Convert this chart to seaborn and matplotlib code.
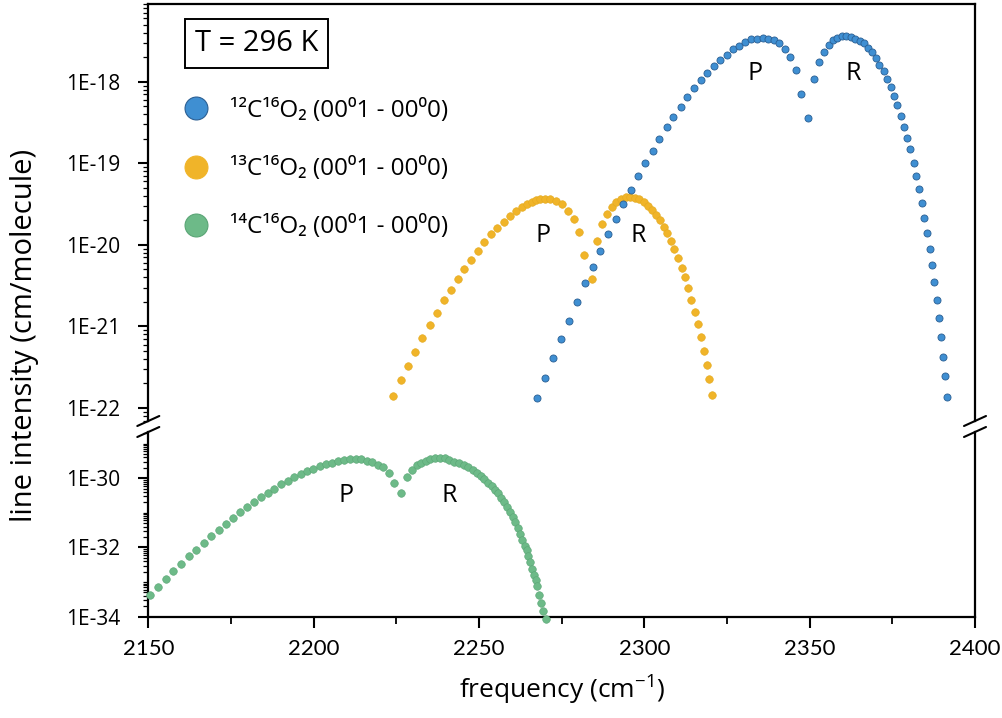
import numpy as np
import pandas as pd
import matplotlib
matplotlib.use("Agg")
import matplotlib.pyplot as plt
import seaborn as sns
from matplotlib.ticker import FixedLocator, FuncFormatter, MultipleLocator, NullFormatter, NullLocator
from matplotlib.lines import Line2D

# ---------------- data ----------------
# 12C16O2 (0001 - 00000): frequency (cm-1) and log10 line intensity (cm/molecule)
c12_freq = [2267.4, 2269.9, 2272.3, 2274.8, 2277.3, 2279.7, 2282.1, 2284.4, 2286.7, 2289.0,
            2291.3, 2293.6, 2296.0, 2298.1, 2300.3, 2302.5, 2304.5, 2306.8, 2308.8, 2311.0,
            2312.8, 2315.0, 2317.0, 2319.0, 2321.0, 2322.9, 2324.9, 2326.7, 2328.5, 2330.3,
            2332.2, 2334.0, 2335.8, 2337.5, 2339.2, 2340.8, 2342.5, 2344.1, 2345.9, 2347.5,
            2349.6,
            2351.2, 2352.7, 2354.2, 2355.7, 2357.0, 2358.3, 2359.8, 2361.1, 2362.5, 2363.8,
            2365.2, 2366.4, 2367.7, 2368.9, 2370.0, 2371.0, 2372.4, 2373.5, 2374.5, 2375.6,
            2376.5, 2377.5, 2378.5, 2379.5, 2380.4, 2381.5, 2382.2, 2383.1, 2384.1, 2384.7,
            2385.6, 2386.3, 2387.1, 2387.7, 2388.4, 2389.0, 2389.7, 2390.3, 2390.9, 2391.4]
c12_log10 = [-21.88, -21.63, -21.39, -21.15, -20.93, -20.70, -20.47, -20.27, -20.07, -19.87,
             -19.68, -19.50, -19.33, -19.16, -19.00, -18.85, -18.70, -18.56, -18.43, -18.31,
             -18.19, -18.08, -17.98, -17.89, -17.81, -17.73, -17.67, -17.60, -17.56, -17.51,
             -17.48, -17.47, -17.46, -17.47, -17.49, -17.53, -17.60, -17.70, -17.86, -18.15,
             -18.45,
             -17.97, -17.76, -17.63, -17.55, -17.49, -17.46, -17.44, -17.44, -17.45, -17.47,
             -17.50, -17.53, -17.59, -17.64, -17.71, -17.79, -17.87, -17.97, -18.07, -18.18,
             -18.29, -18.42, -18.55, -18.69, -18.83, -18.99, -19.15, -19.31, -19.49, -19.67,
             -19.86, -20.05, -20.25, -20.46, -20.68, -20.90, -21.13, -21.37, -21.61, -21.87]

# 13C16O2 (0001 - 00000)
c13_freq = [2224.1, 2226.3, 2228.5, 2230.6, 2232.9, 2235.1, 2237.3, 2239.3, 2241.4, 2243.6,
            2245.6, 2247.6, 2249.6, 2251.6, 2253.6, 2255.5, 2257.6, 2259.4, 2261.3, 2262.9,
            2264.4, 2265.9, 2267.2, 2268.6, 2270.0, 2271.5, 2273.2, 2275.0, 2276.9, 2278.6,
            2280.2, 2281.8, 2284.2,
            2285.7, 2287.2, 2288.7, 2290.1, 2291.5, 2292.9, 2294.4, 2295.8, 2297.2, 2298.5,
            2299.8, 2301.0, 2302.2, 2303.4, 2304.6, 2305.9, 2306.9, 2308.1, 2309.1, 2310.2,
            2311.3, 2312.2, 2313.2, 2314.2, 2315.2, 2316.1, 2317.0, 2318.0, 2318.9, 2319.6,
            2320.5]
c13_log10 = [-21.85, -21.66, -21.48, -21.31, -21.14, -20.98, -20.83, -20.68, -20.55, -20.42,
             -20.29, -20.18, -20.07, -19.97, -19.87, -19.79, -19.72, -19.65, -19.59, -19.53,
             -19.50, -19.47, -19.45, -19.44, -19.44, -19.44, -19.46, -19.50, -19.58, -19.68,
             -19.84, -20.13, -20.42,
             -19.95, -19.75, -19.62, -19.53, -19.47, -19.44, -19.41, -19.41, -19.42, -19.44,
             -19.47, -19.52, -19.57, -19.63, -19.70, -19.78, -19.86, -19.95, -20.05, -20.16,
             -20.28, -20.40, -20.53, -20.67, -20.82, -20.97, -21.13, -21.30, -21.47, -21.65,
             -21.84]

# 14C16O2 (0001 - 00000)
c14_freq = [2150.5, 2152.8, 2155.3, 2157.6, 2159.9, 2162.3, 2164.5, 2166.8, 2169.1, 2171.3,
            2173.5, 2175.7, 2177.7, 2179.9, 2182.1, 2184.2, 2186.2, 2188.1, 2190.1, 2192.2,
            2194.1, 2196.1, 2198.1, 2199.9, 2201.8, 2203.6, 2205.5, 2207.4, 2209.2, 2211.0,
            2212.7, 2214.3, 2216.0, 2217.6, 2219.4, 2221.1, 2222.7, 2224.2, 2226.4,
            2228.1, 2229.7, 2231.2, 2232.5, 2233.9, 2235.3, 2236.8, 2238.2, 2239.6, 2241.0,
            2242.4, 2244.0, 2245.4, 2246.8, 2248.1, 2249.3, 2250.5, 2251.6, 2252.7, 2253.8,
            2254.7, 2255.7, 2256.7, 2257.6, 2258.6, 2259.4, 2260.2, 2260.9, 2261.7, 2262.4,
            2263.1, 2263.8, 2264.4, 2264.9, 2265.4, 2265.9, 2266.5, 2267.1, 2267.6, 2268.2,
            2268.8, 2269.4, 2270.2]
c14_log10 = [-33.37, -33.13, -32.90, -32.69, -32.47, -32.25, -32.06, -31.86, -31.68, -31.49,
             -31.31, -31.15, -30.99, -30.84, -30.70, -30.55, -30.43, -30.30, -30.17, -30.07,
             -29.97, -29.88, -29.80, -29.73, -29.66, -29.60, -29.56, -29.51, -29.48, -29.46,
             -29.45, -29.46, -29.50, -29.54, -29.61, -29.69, -29.85, -30.14, -30.43,
             -29.96, -29.76, -29.63, -29.56, -29.49, -29.45, -29.42, -29.42, -29.43, -29.47,
             -29.52, -29.57, -29.62, -29.69, -29.77, -29.85, -29.93, -30.03, -30.14, -30.23,
             -30.34, -30.44, -30.56, -30.70, -30.83, -30.97, -31.12, -31.28, -31.45, -31.62,
             -31.78, -31.95, -32.08, -32.24, -32.43, -32.62, -32.81, -32.94, -33.12, -33.36,
             -33.59, -33.83, -34.08]

series_labels = ["¹²C¹⁶O₂ (00⁰1 - 00⁰0)",
                 "¹³C¹⁶O₂ (00⁰1 - 00⁰0)",
                 "¹⁴C¹⁶O₂ (00⁰1 - 00⁰0)"]
x_ticks = [2150, 2200, 2250, 2300, 2350, 2400]
upper_yticks = [1e-22, 1e-21, 1e-20, 1e-19, 1e-18]
lower_yticks = [1e-34, 1e-32, 1e-30]
temperature_label = "T = 296 K"
branch_labels = ["P", "R"]

# ---------------- styling ----------------
sns.set_theme(style="ticks")
FAMILY = ['Open Sans', 'Noto Sans', 'DejaVu Sans']
plt.rcParams['font.family'] = FAMILY
plt.rcParams['mathtext.fontset'] = 'custom'
plt.rcParams['mathtext.rm'] = 'Open Sans'
plt.rcParams['mathtext.it'] = 'Open Sans:italic'
plt.rcParams['mathtext.bf'] = 'Open Sans:bold'
for k in ('text.color', 'axes.labelcolor', 'xtick.color', 'ytick.color', 'axes.edgecolor'):
    plt.rcParams[k] = 'black'

BLUE, BLUE_EDGE = "#3f8fd2", "#2b5f93"
ORANGE, ORANGE_EDGE = "#f0b429", "#e3a91f"
GREEN, GREEN_EDGE = "#6dba88", "#5aa575"

df12 = pd.DataFrame({"freq": c12_freq, "intensity": 10 ** np.array(c12_log10)})
df13 = pd.DataFrame({"freq": c13_freq, "intensity": 10 ** np.array(c13_log10)})
df14 = pd.DataFrame({"freq": c14_freq, "intensity": 10 ** np.array(c14_log10)})

W, H = 1003, 718
fig = plt.figure(figsize=(W / 100, H / 100), dpi=100)
fx = lambda p: p / W
fy = lambda p: 1 - p / H
L, R = 148.3, 975.0
TOP_Y0, TOP_Y1 = 3.5, 421.0
BOT_Y0, BOT_Y1 = 432.0, 616.7
ax_top = fig.add_axes([fx(L), fy(TOP_Y1), fx(R) - fx(L), fy(TOP_Y0) - fy(TOP_Y1)])
ax_bot = fig.add_axes([fx(L), fy(BOT_Y1), fx(R) - fx(L), fy(BOT_Y0) - fy(BOT_Y1)])

sns.scatterplot(data=df13, x="freq", y="intensity", ax=ax_top, color=ORANGE,
                edgecolor=ORANGE_EDGE, linewidth=0.4, s=30, legend=False, zorder=3)
sns.scatterplot(data=df12, x="freq", y="intensity", ax=ax_top, color=BLUE,
                edgecolor=BLUE_EDGE, linewidth=0.6, s=26, legend=False, zorder=4)
sns.scatterplot(data=df14, x="freq", y="intensity", ax=ax_bot, color=GREEN,
                edgecolor=GREEN_EDGE, linewidth=0.4, s=30, legend=False, zorder=4,
                clip_on=False)


def minor_log_positions(lo_exp, hi_exp):
    return [m * 10.0 ** e for e in range(lo_exp, hi_exp + 1) for m in range(1, 10)]


fmt = FuncFormatter(lambda v, _: f"1E{int(round(np.log10(v)))}")
for ax in (ax_top, ax_bot):
    ax.set_yscale("log")
    ax.set_xlim(2150, 2400)
    ax.set_xlabel("")
    ax.set_ylabel("")
    ax.yaxis.set_major_formatter(fmt)
    ax.yaxis.set_minor_formatter(NullFormatter())
    ax.tick_params(axis="y", which="major", direction="out", length=7, width=1.5,
                   labelsize=15, pad=13, colors="black", right=False)
    ax.tick_params(axis="y", which="minor", direction="out", length=3.5, width=0.9,
                   right=False, left=True)
    for sp in ax.spines.values():
        sp.set_visible(True)
        sp.set_color("black")
        sp.set_linewidth(1.6)
    ax.set_facecolor("white")

ax_top.set_ylim(10 ** -22.16, 10 ** -17.04)
ax_top.yaxis.set_major_locator(FixedLocator(upper_yticks))
ax_top.yaxis.set_minor_locator(FixedLocator(minor_log_positions(-23, -18)))
ax_top.spines["bottom"].set_visible(False)
ax_top.xaxis.set_major_locator(NullLocator())
ax_top.xaxis.set_minor_locator(NullLocator())
ax_top.tick_params(axis="x", which="both", bottom=False, top=False, labelbottom=False)

ax_bot.set_ylim(10 ** -34.0, 10 ** -28.667)
ax_bot.yaxis.set_major_locator(FixedLocator(lower_yticks))
ax_bot.yaxis.set_minor_locator(FixedLocator(minor_log_positions(-34, -29)))
ax_bot.spines["top"].set_visible(False)
ax_bot.xaxis.set_major_locator(FixedLocator(x_ticks))
ax_bot.xaxis.set_minor_locator(MultipleLocator(25))
ax_bot.tick_params(axis="x", which="major", direction="out", length=8, width=1.5,
                   labelsize=16, pad=8, top=False)
ax_bot.tick_params(axis="x", which="minor", direction="out", length=5, width=1.3, top=False)
for lab in ax_bot.get_xticklabels():
    lab.set_fontfamily(["Lato", "DejaVu Sans"])
ax_bot.set_xlabel("frequency (cm$^{-1}$)", fontsize=19, labelpad=11)

fig.text(fx(25), fy(335), "line intensity (cm/molecule)", rotation=90,
         ha="center", va="center", fontsize=21)

# axis-break marks
for xs in (L, R):
    for yc in (TOP_Y1, BOT_Y0):
        fig.add_artist(Line2D([fx(xs - 11), fx(xs + 11)], [fy(yc + 5), fy(yc - 5)],
                              transform=fig.transFigure, color="black", lw=1.5))

# temperature box
fig.text(fx(256.5), fy(43.5), temperature_label, ha="center", va="center", fontsize=21,
         bbox=dict(boxstyle="square,pad=0.33", facecolor="white", edgecolor="black", lw=1.4))

# P / R branch labels
branch_pos_top = [(2333.5, 10 ** -17.975), (2363.1, 10 ** -17.975),
                  (2269.4, 10 ** -19.963), (2298.1, 10 ** -19.963)]
for i, (bx, by) in enumerate(branch_pos_top):
    ax_top.text(bx, by, branch_labels[i % 2], ha="center", va="baseline", fontsize=18)
for i, (bx, by) in enumerate([(2209.8, 10 ** -30.696), (2240.9, 10 ** -30.696)]):
    ax_bot.text(bx, by, branch_labels[i], ha="center", va="baseline", fontsize=18)

# legend
handles = [Line2D([], [], ls="", marker="o", markersize=16.5, markerfacecolor=BLUE,
                  markeredgecolor=BLUE_EDGE, markeredgewidth=0.8),
           Line2D([], [], ls="", marker="o", markersize=16.5, markerfacecolor=ORANGE,
                  markeredgecolor=ORANGE, markeredgewidth=0.8),
           Line2D([], [], ls="", marker="o", markersize=16.5, markerfacecolor=GREEN,
                  markeredgecolor=GREEN_EDGE, markeredgewidth=0.8)]
leg = ax_top.legend(handles, series_labels, loc="upper left", frameon=False,
                    bbox_to_anchor=(fx(183.5), fy(99)), bbox_transform=fig.transFigure,
                    prop={"family": FAMILY, "size": 17.5},
                    handlelength=1.0, handletextpad=0.9, labelspacing=1.4,
                    borderpad=0, borderaxespad=0)

fig.savefig("out.png", dpi=100, facecolor="white")
